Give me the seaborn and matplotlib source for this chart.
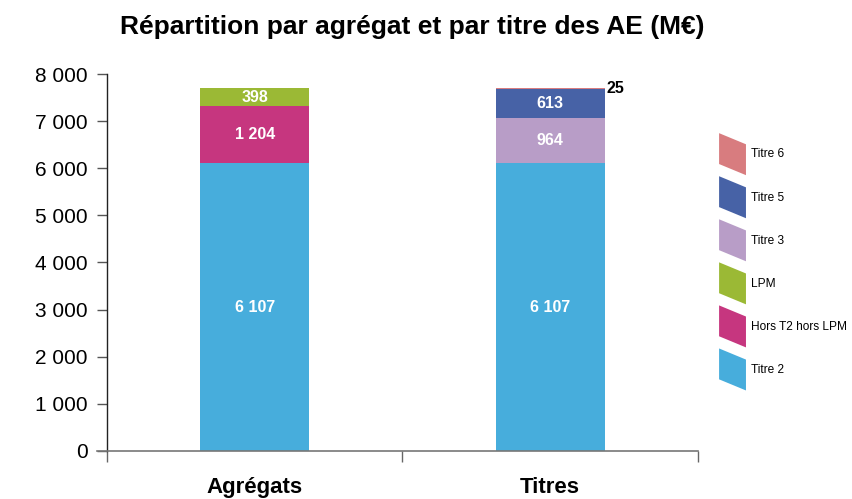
import matplotlib
matplotlib.use("Agg")
import matplotlib.pyplot as plt
import matplotlib.patches as mpatches
from matplotlib.legend_handler import HandlerPatch
from matplotlib.ticker import FuncFormatter
import numpy as np
import pandas as pd
import seaborn as sns

# Data (M€)
categories = ["Agrégats", "Titres"]
series_names = ["Titre 2", "Hors T2 hors LPM", "LPM", "Titre 3", "Titre 5", "Titre 6"]
titre2 = [6107, 6107]
hors_t2_hors_lpm = [1204, 0]
lpm = [398, 0]
titre3 = [0, 964]
titre5 = [0, 613]
titre6 = [0, 25]
colors = ["#47ADDC", "#C6367F", "#9BB935", "#B89DC7", "#4762A6", "#D87C7F"]

values = [titre2, hors_t2_hors_lpm, lpm, titre3, titre5, titre6]
df = pd.DataFrame({"categorie": np.repeat(categories, len(series_names)),
                   "serie": series_names * len(categories),
                   "valeur": [values[s][c] for c in range(len(categories)) for s in range(len(series_names))]})

sns.set_theme(style="white")
plt.rcParams["font.family"] = ["Liberation Sans", "DejaVu Sans"]
label_font = ["Liberation Sans", "DejaVu Sans"]

fig = plt.figure(figsize=(8.52, 4.99), dpi=100)
ax = fig.add_axes([0.1256, 0.0962, 0.6936, 0.7555])

bottoms = np.zeros(len(categories))
for name, color in zip(series_names, colors):
    sub = df[df["serie"] == name].set_index("categorie").loc[categories]
    vals = sub["valeur"].to_numpy(dtype=float)
    sns.barplot(x=categories, y=vals, bottom=bottoms, color=color, width=0.368,
                saturation=1, ax=ax, linewidth=0)
    for i, v in enumerate(vals):
        if v <= 0:
            continue
        txt = f"{int(v):,}".replace(",", " ")
        if v >= 100:
            ax.text(i, bottoms[i] + v / 2, txt, ha="center", va="center",
                    color="white", fontsize=11.5, fontweight="bold", family=label_font)
        else:
            ax.text(i + 0.19, bottoms[i] + v - 20, txt, ha="left", va="center",
                    color="black", fontsize=11.5, fontweight="bold", family=label_font)
    bottoms = bottoms + vals

if ax.get_legend() is not None:
    ax.get_legend().remove()

ax.set_xlim(-0.5, 1.5)
ax.set_ylim(0, 8000)
ax.set_yticks(np.arange(0, 8001, 1000))
ax.yaxis.set_major_formatter(FuncFormatter(lambda v, p: f"{int(v):,}".replace(",", " ")))
ax.tick_params(axis="y", which="major", direction="out", length=7, width=1, color="#555555",
               labelsize=15, pad=7, left=True, labelcolor="black")
ax.set_xticks([0, 1])
ax.set_xticklabels(categories, fontsize=16, fontweight="bold")
ax.set_xticks([-0.5, 0.5, 1.5], minor=True)
ax.tick_params(axis="x", which="major", length=0, pad=19, labelcolor="black")
ax.tick_params(axis="x", which="minor", direction="out", length=8, width=1, color="#666666", bottom=True)
for s in ["top", "right"]:
    ax.spines[s].set_visible(False)
ax.spines["left"].set_color("#222222")
ax.spines["bottom"].set_color("#777777")
ax.spines["left"].set_linewidth(1.0)
ax.spines["bottom"].set_linewidth(1.2)
ax.spines["bottom"].set_bounds(-0.535, 1.5)
ax.set_xlabel("")
ax.set_ylabel("")
ax.grid(False)

fig.text(0.484, 0.945, "Répartition par agrégat et par titre des AE (M€)", ha="center", va="center",
         fontsize=19, fontweight="bold", color="black")


class SlantedHandler(HandlerPatch):
    def create_artists(self, legend, orig_handle, xdescent, ydescent, width, height, fontsize, trans):
        w, h = width, height
        s = h * 0.18
        x0, y0 = -xdescent, -ydescent
        pts = [(x0, y0 + s), (x0, y0 + h + s), (x0 + w, y0 + h - s), (x0 + w, y0 - s)]
        p = mpatches.Polygon(pts, closed=True, facecolor=orig_handle.get_facecolor(),
                             edgecolor="none", transform=trans)
        return [p]


handles = [mpatches.Patch(facecolor=c, label=n) for n, c in zip(series_names, colors)][::-1]
leg = fig.legend(handles=handles, loc="upper left", bbox_to_anchor=(0.844, 0.722), frameon=False,
                 handler_map={mpatches.Patch: SlantedHandler()}, handlelength=2.25, handleheight=3.6,
                 labelspacing=1.02, handletextpad=0.45, borderpad=0, borderaxespad=0,
                 prop={"family": label_font, "size": 8.6})
for t in leg.get_texts():
    t.set_color("black")

fig.savefig("out.png", dpi=100, facecolor="white")
